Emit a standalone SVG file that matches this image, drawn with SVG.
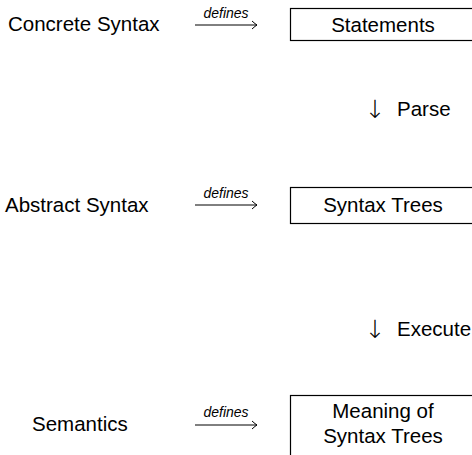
<svg xmlns="http://www.w3.org/2000/svg" width="472" height="455" viewBox="0 0 472 455">
<defs>
<style>
.t{font-family:"Liberation Sans",Arial,sans-serif;font-size:20.5px;fill:#000}
.m{text-anchor:middle}
.a{font-family:"DejaVu Sans",sans-serif;font-size:25px;font-weight:200;fill:#000;text-anchor:middle}
.d{font-family:"Liberation Sans",Arial,sans-serif;font-size:14px;font-style:italic;fill:#000;text-anchor:middle}
.box{fill:#fff;stroke:#000;stroke-width:1.2}
.ln{stroke:#000;stroke-width:1;fill:none}
</style>
<marker id="ah" viewBox="-6 -5 8 10" markerWidth="8" markerHeight="10" refX="0" refY="0" orient="auto" markerUnits="userSpaceOnUse">
<path d="M-5,-4 Q-1.5,-0.8 0,0 Q-1.5,0.8 -5,4" fill="none" stroke="#000" stroke-width="1"/>
</marker>
</defs>
<rect width="472" height="455" fill="#fff"/>
<g id="concrete-syntax"><text class="t" x="8" y="31">Concrete Syntax</text></g>
<g id="abstract-syntax"><text class="t" x="5" y="212">Abstract Syntax</text></g>
<g id="semantics"><text class="t" x="32" y="431">Semantics</text></g>
<g id="statements"><rect class="box" x="290.5" y="8.5" width="183" height="32"/><text class="t m" x="383" y="32">Statements</text></g>
<g id="syntax-trees"><rect class="box" x="290.5" y="187.5" width="183" height="36"/><text class="t m" x="383" y="212">Syntax Trees</text></g>
<g id="meaning"><rect class="box" x="290.5" y="395.5" width="183" height="70"/><text class="t m" x="383" y="418">Meaning of</text><text class="t m" x="383" y="443">Syntax Trees</text></g>
<g id="connectors">
<line class="ln" x1="195" y1="25" x2="257" y2="25" marker-end="url(#ah)"/>
<text class="d" x="226" y="18">defines</text>
<line class="ln" x1="195" y1="205" x2="257" y2="205" marker-end="url(#ah)"/>
<text class="d" x="226" y="198">defines</text>
<line class="ln" x1="195" y1="425" x2="257" y2="425" marker-end="url(#ah)"/>
<text class="d" x="226" y="417">defines</text>
<text class="a" x="375" y="118">↓</text><text class="t" x="397" y="116">Parse</text>
<text class="a" x="375" y="338">↓</text><text class="t" x="397" y="336">Execute</text>
</g>
</svg>
